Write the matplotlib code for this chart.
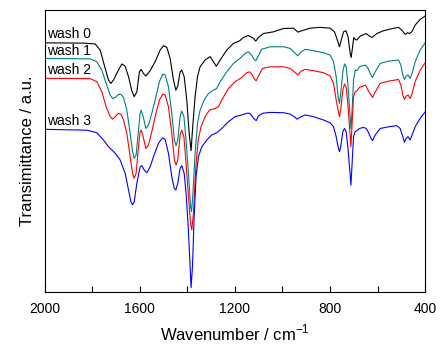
import numpy as np
import matplotlib
matplotlib.use('Agg')
import matplotlib.pyplot as plt

plt.rcParams['font.family'] = ['Liberation Sans', 'DejaVu Sans']
plt.rcParams['mathtext.fontset'] = 'custom'
plt.rcParams['mathtext.rm'] = 'Liberation Sans'

# values (wavenumber in cm-1, transmittance in a.u.)
wn0 = [2000, 1836, 1787, 1766, 1745, 1731, 1721, 1710, 1693, 1675, 1661, 1647, 1633, 1623, 1612,
       1601, 1594, 1584, 1574, 1556, 1535, 1514, 1500, 1486, 1472, 1458, 1448, 1440, 1430, 1423,
       1413, 1402, 1392, 1384, 1377, 1367, 1357, 1346, 1325, 1304, 1290, 1278, 1262, 1234, 1206,
       1180, 1164, 1143, 1122, 1112, 1101, 1080, 1038, 995, 953, 935, 918, 883, 841, 799, 781,
       769, 760, 752, 743, 733, 724, 715, 711, 705, 700, 694, 687, 673, 648, 634, 623, 603, 575,
       540, 512, 498, 484, 474, 466, 456, 442, 421, 400]
t0 = [88.4, 88.3, 88.0, 85.8, 79.3, 75.2, 74.0, 75.2, 78.1, 80.9, 80.1, 76.4, 71.4, 69.3, 71.0,
      78.1, 79.0, 77.5, 76.6, 78.5, 81.7, 85.8, 87.4, 86.8, 82.9, 75.2, 71.6, 73.0, 78.1, 78.7,
      76.4, 68.1, 56.3, 50.1, 58.7, 69.3, 76.4, 79.9, 82.3, 83.5, 81.7, 80.1, 82.3, 85.8, 88.2,
      89.1, 90.3, 91.0, 90.0, 89.0, 90.3, 91.7, 92.3, 93.5, 93.6, 92.2, 92.7, 93.6, 93.9, 93.6, 92.3,
      89.4, 87.0, 89.6, 92.3, 92.7, 90.5, 84.6, 83.2, 87.0, 90.3, 89.6, 89.4, 90.8, 91.7, 90.8, 90.3, 91.7, 92.7,
      93.4, 93.9, 92.9, 91.4, 92.0, 91.7, 92.3, 94.7, 96.7, 97.9]

wn1 = [2000, 1808, 1780, 1759, 1741, 1724, 1714, 1703, 1689, 1679, 1668, 1654, 1640, 1630, 1623,
       1615, 1605, 1598, 1594, 1587, 1574, 1563, 1549, 1535, 1517, 1503, 1493, 1479, 1465, 1454,
       1447, 1440, 1430, 1423, 1414, 1405, 1395, 1386, 1382, 1377, 1367, 1357, 1346, 1329, 1311,
       1290, 1276, 1262, 1234, 1206, 1178, 1157, 1143, 1129, 1119, 1112, 1103, 1087, 1052, 995,
       967, 946, 935, 921, 904, 869, 827, 799, 785, 774, 766, 760, 755, 746, 739, 732, 725, 718,
       712, 707, 701, 694, 687, 676, 662, 651, 640, 628, 621, 610, 589, 554, 512, 502, 494, 487,
       480, 472, 463, 455, 442, 421, 400]
t1 = [82.9, 82.7, 81.7, 78.7, 74.0, 69.9, 68.6, 69.0, 70.1, 70.1, 69.0, 64.5, 56.3, 49.8, 47.4,
      48.6, 57.4, 63.4, 64.5, 62.8, 58.0, 59.2, 63.4, 68.1, 74.6, 77.3, 77.0, 72.8, 63.4, 53.9,
      51.9, 53.9, 62.2, 64.2, 62.2, 53.9, 42.1, 30.3, 28.5, 33.8, 49.2, 59.8, 64.5, 68.1, 70.4,
      71.6, 72.2, 74.6, 78.1, 81.1, 82.9, 84.6, 85.2, 84.0, 82.5, 82.0, 83.5, 86.1, 87.0, 87.0,
      86.4, 84.6, 83.8, 85.2, 86.1, 85.6, 84.9, 84.0, 81.7, 76.4, 69.3, 66.9, 70.4, 78.1, 80.9, 79.9, 74.0, 65.7,
      58.0, 64.5, 75.2, 78.7, 78.5, 79.9, 80.3, 80.5, 79.3, 77.0, 76.1, 78.1, 81.1, 81.9, 82.3, 80.5, 77.0, 75.4,
      76.6, 77.0, 75.8, 77.5, 81.7, 85.8, 88.4]

wn2 = [2000, 1808, 1780, 1759, 1741, 1724, 1714, 1703, 1689, 1679, 1668, 1654, 1640, 1630, 1623,
       1615, 1605, 1598, 1594, 1587, 1574, 1563, 1549, 1535, 1517, 1503, 1493, 1479, 1465, 1454,
       1447, 1440, 1430, 1423, 1414, 1405, 1395, 1386, 1381, 1374, 1364, 1354, 1342, 1325, 1307,
       1283, 1269, 1255, 1227, 1199, 1171, 1150, 1138, 1126, 1117, 1110, 1101, 1084, 1052, 995,
       967, 946, 935, 921, 904, 869, 827, 799, 785, 774, 766, 760, 755, 746, 739, 732, 725, 718,
       712, 707, 701, 694, 687, 676, 662, 651, 640, 628, 621, 610, 589, 554, 512, 502, 494, 487,
       480, 472, 463, 455, 442, 421, 400]
t2 = [75.8, 75.7, 74.6, 71.0, 65.7, 62.2, 61.3, 62.2, 63.4, 63.1, 61.0, 56.3, 48.0, 42.1, 40.3,
      42.1, 51.5, 56.9, 57.4, 55.7, 50.9, 52.1, 56.9, 62.2, 68.1, 70.2, 69.9, 65.7, 56.3, 46.8,
      45.0, 46.8, 55.7, 57.4, 55.1, 45.6, 33.8, 24.3, 22.0, 27.9, 44.4, 53.9, 58.6, 62.2, 64.5,
      65.1, 65.7, 68.1, 72.2, 74.6, 76.1, 77.8, 78.1, 77.0, 75.4, 74.9, 76.6, 79.3, 79.9, 79.9,
      79.3, 77.8, 77.0, 78.4, 79.0, 78.5, 77.8, 76.6, 74.0, 68.1, 64.5, 62.2, 64.5, 71.6, 73.8, 72.6, 66.9, 58.6,
      51.5, 59.8, 69.3, 71.0, 71.4, 72.6, 73.0, 73.4, 71.6, 69.9, 69.0, 71.0, 74.0, 74.8, 75.4, 73.4, 69.9, 68.3,
      69.5, 69.9, 68.7, 70.4, 74.6, 78.7, 81.3]

wn3 = [2000, 1822, 1780, 1752, 1731, 1717, 1703, 1682, 1661, 1647, 1637, 1630, 1623, 1612, 1598,
       1591, 1581, 1570, 1556, 1542, 1521, 1504, 1493, 1479, 1465, 1455, 1448, 1440, 1430, 1423,
       1413, 1405, 1396, 1388, 1384, 1378, 1371, 1363, 1353, 1339, 1318, 1297, 1276, 1255, 1227,
       1199, 1171, 1150, 1138, 1126, 1117, 1110, 1101, 1084, 1052, 995, 967, 946, 939, 921, 904,
       869, 827, 799, 785, 774, 766, 760, 755, 746, 739, 732, 725, 718, 712, 707, 701, 694, 687,
       676, 659, 648, 640, 628, 621, 610, 589, 554, 519, 505, 494, 487, 480, 472, 463, 455, 442,
       421, 400]
t3 = [57.7, 57.4, 56.5, 53.9, 51.5, 50.4, 49.2, 46.8, 42.1, 36.2, 32.0, 30.9, 32.0, 38.5, 44.4,
      44.8, 43.3, 42.3, 44.4, 48.0, 52.7, 54.7, 54.1, 49.2, 40.9, 36.8, 36.2, 38.5, 43.9, 44.8,
      42.1, 35.0, 23.2, 9.0, 1.5, 9.0, 26.7, 40.9, 48.0, 51.5, 53.9, 55.7, 56.5, 58.0, 60.4,
      62.2, 62.8, 63.4, 63.4, 62.2, 61.2, 60.8, 62.4, 63.4, 63.7, 63.6, 63.1, 61.9, 61.3, 62.2, 62.8,
      62.2, 61.0, 60.0, 58.6, 55.1, 51.5, 49.8, 51.5, 56.9, 58.0, 56.9, 51.5, 44.4, 37.9, 45.6, 55.1, 56.9, 57.2,
      58.0, 58.4, 58.0, 56.9, 54.5, 53.7, 55.7, 58.0, 58.6, 59.0, 58.0, 55.1, 53.1, 54.5, 55.1, 53.9, 55.7, 58.6,
      61.6, 63.9]

labels = ['wash 0', 'wash 1', 'wash 2', 'wash 3']
label_y = [90.0, 84.0, 77.3, 59.2]
colors = ['black', '#008080', 'red', 'blue']

fig = plt.figure(figsize=(4.47, 3.5), dpi=100)
ax = fig.add_axes([0.0996, 0.166, 0.8515, 0.805])

for wn, t, c in zip([wn0, wn1, wn2, wn3], [t0, t1, t2, t3], colors):
    ax.plot(wn, t, color=c, lw=0.8)

for lab, y in zip(labels, label_y):
    ax.text(1990, y, lab, fontsize=10, va='baseline', ha='left')

ax.set_xlim(2000, 400)
ax.set_ylim(0, 100)
ax.set_xticks([2000, 1600, 1200, 800, 400])
ax.set_xticks([1800, 1400, 1000, 600], minor=True)
ax.set_yticks([])
ax.tick_params(axis='x', which='both', direction='in', length=4, width=0.8, labelsize=10, pad=7)
ax.set_xlabel(r'Wavenumber / cm$^{\mathregular{-1}}$', fontsize=12, labelpad=5)
ax.set_ylabel('Transimittance / a.u.', fontsize=12, labelpad=7)

fig.savefig('out.png', dpi=100)
